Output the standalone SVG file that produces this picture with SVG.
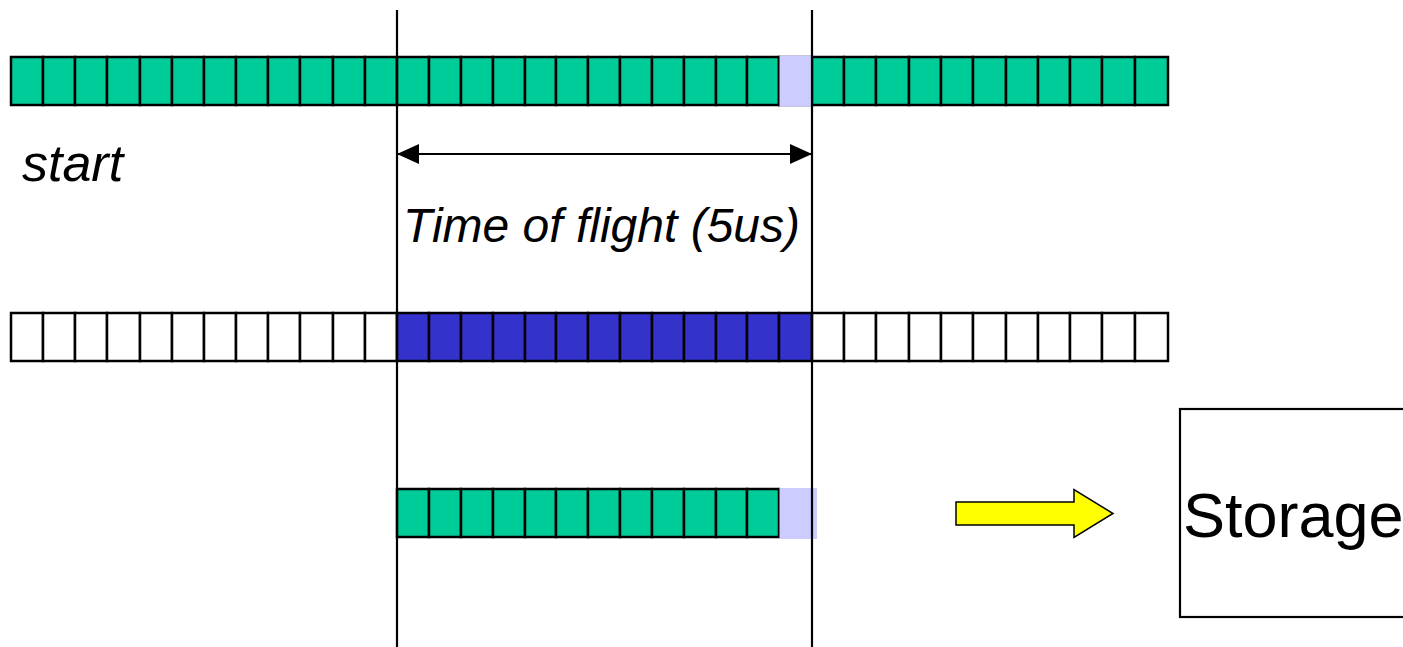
<svg xmlns="http://www.w3.org/2000/svg" width="1403" height="647" viewBox="0 0 1403 647">
  <style>
    .g { fill: #00CC99; stroke: #000; stroke-width: 2.5; }
    .w { fill: #FFFFFF; stroke: #000; stroke-width: 2.5; }
    .b { fill: #3333CC; stroke: #000; stroke-width: 2.5; }
    .lav { fill: #CCCCFF; stroke: none; }
    .guide { stroke: #000; stroke-width: 2.2; fill: none; }
    .it { font-family: "Liberation Sans", Arial, sans-serif; font-style: italic; fill: #000; }
    .lbl { font-family: "Liberation Sans", Arial, sans-serif; fill: #000; }
  </style>
  <defs>
    <marker id="ah" markerWidth="22" markerHeight="20" refX="21" refY="10" orient="auto-start-reverse" markerUnits="userSpaceOnUse">
      <path d="M0,0 L22,10 L0,20 Z" fill="#000"/>
    </marker>
  </defs>
  <rect width="1403" height="647" fill="#fff"/>

  <!-- incoming data stream -->
  <g id="stream-top">
    <rect class="g" x="11" y="57" width="32" height="48"/>
    <rect class="g" x="43" y="57" width="32" height="48"/>
    <rect class="g" x="75" y="57" width="32" height="48"/>
    <rect class="g" x="107" y="57" width="33" height="48"/>
    <rect class="g" x="140" y="57" width="32" height="48"/>
    <rect class="g" x="172" y="57" width="32" height="48"/>
    <rect class="g" x="204" y="57" width="32" height="48"/>
    <rect class="g" x="236" y="57" width="32" height="48"/>
    <rect class="g" x="268" y="57" width="32" height="48"/>
    <rect class="g" x="300" y="57" width="33" height="48"/>
    <rect class="g" x="333" y="57" width="32" height="48"/>
    <rect class="g" x="365" y="57" width="32" height="48"/>
    <rect class="g" x="397" y="57" width="32" height="48"/>
    <rect class="g" x="429" y="57" width="32" height="48"/>
    <rect class="g" x="461" y="57" width="32" height="48"/>
    <rect class="g" x="493" y="57" width="32" height="48"/>
    <rect class="g" x="525" y="57" width="31" height="48"/>
    <rect class="g" x="556" y="57" width="32" height="48"/>
    <rect class="g" x="588" y="57" width="32" height="48"/>
    <rect class="g" x="620" y="57" width="32" height="48"/>
    <rect class="g" x="652" y="57" width="32" height="48"/>
    <rect class="g" x="684" y="57" width="32" height="48"/>
    <rect class="g" x="716" y="57" width="31" height="48"/>
    <rect class="g" x="747" y="57" width="32" height="48"/>
    <rect class="g" x="779" y="57" width="33" height="48"/>
    <rect class="g" x="812" y="57" width="32" height="48"/>
    <rect class="g" x="844" y="57" width="32" height="48"/>
    <rect class="g" x="876" y="57" width="33" height="48"/>
    <rect class="g" x="909" y="57" width="32" height="48"/>
    <rect class="g" x="941" y="57" width="32" height="48"/>
    <rect class="g" x="973" y="57" width="33" height="48"/>
    <rect class="g" x="1006" y="57" width="32" height="48"/>
    <rect class="g" x="1038" y="57" width="32" height="48"/>
    <rect class="g" x="1070" y="57" width="32" height="48"/>
    <rect class="g" x="1102" y="57" width="33" height="48"/>
    <rect class="g" x="1135" y="57" width="33" height="48"/>
    <rect class="lav" x="779.5" y="55.5" width="32" height="51"/>
  </g>

  <!-- acquisition window -->
  <g id="window-middle">
    <rect class="w" x="11" y="313" width="32" height="48"/>
    <rect class="w" x="43" y="313" width="32" height="48"/>
    <rect class="w" x="75" y="313" width="32" height="48"/>
    <rect class="w" x="107" y="313" width="33" height="48"/>
    <rect class="w" x="140" y="313" width="32" height="48"/>
    <rect class="w" x="172" y="313" width="32" height="48"/>
    <rect class="w" x="204" y="313" width="32" height="48"/>
    <rect class="w" x="236" y="313" width="32" height="48"/>
    <rect class="w" x="268" y="313" width="32" height="48"/>
    <rect class="w" x="300" y="313" width="33" height="48"/>
    <rect class="w" x="333" y="313" width="32" height="48"/>
    <rect class="w" x="365" y="313" width="32" height="48"/>
    <rect class="b" x="397" y="313" width="32" height="48"/>
    <rect class="b" x="429" y="313" width="32" height="48"/>
    <rect class="b" x="461" y="313" width="32" height="48"/>
    <rect class="b" x="493" y="313" width="32" height="48"/>
    <rect class="b" x="525" y="313" width="31" height="48"/>
    <rect class="b" x="556" y="313" width="32" height="48"/>
    <rect class="b" x="588" y="313" width="32" height="48"/>
    <rect class="b" x="620" y="313" width="32" height="48"/>
    <rect class="b" x="652" y="313" width="32" height="48"/>
    <rect class="b" x="684" y="313" width="32" height="48"/>
    <rect class="b" x="716" y="313" width="31" height="48"/>
    <rect class="b" x="747" y="313" width="32" height="48"/>
    <rect class="b" x="779" y="313" width="33" height="48"/>
    <rect class="w" x="812" y="313" width="32" height="48"/>
    <rect class="w" x="844" y="313" width="32" height="48"/>
    <rect class="w" x="876" y="313" width="33" height="48"/>
    <rect class="w" x="909" y="313" width="32" height="48"/>
    <rect class="w" x="941" y="313" width="32" height="48"/>
    <rect class="w" x="973" y="313" width="33" height="48"/>
    <rect class="w" x="1006" y="313" width="32" height="48"/>
    <rect class="w" x="1038" y="313" width="32" height="48"/>
    <rect class="w" x="1070" y="313" width="32" height="48"/>
    <rect class="w" x="1102" y="313" width="33" height="48"/>
    <rect class="w" x="1135" y="313" width="33" height="48"/>
  </g>

  <!-- captured frame -->
  <g id="frame-bottom">
    <rect class="g" x="397" y="489" width="32" height="48"/>
    <rect class="g" x="429" y="489" width="32" height="48"/>
    <rect class="g" x="461" y="489" width="32" height="48"/>
    <rect class="g" x="493" y="489" width="32" height="48"/>
    <rect class="g" x="525" y="489" width="31" height="48"/>
    <rect class="g" x="556" y="489" width="32" height="48"/>
    <rect class="g" x="588" y="489" width="32" height="48"/>
    <rect class="g" x="620" y="489" width="32" height="48"/>
    <rect class="g" x="652" y="489" width="32" height="48"/>
    <rect class="g" x="684" y="489" width="32" height="48"/>
    <rect class="g" x="716" y="489" width="31" height="48"/>
    <rect class="g" x="747" y="489" width="32" height="48"/>
    <rect class="lav" x="779.5" y="488" width="37.5" height="51"/>
  </g>

  <!-- storage -->
  <g id="storage">
    <rect x="1180" y="409" width="240" height="208" fill="#fff" stroke="#000" stroke-width="2.2"/>
    <text class="lbl" x="1183" y="537" font-size="63">Storage</text>
  </g>

  <g id="labels">
    <text class="it" x="22" y="181" font-size="52">start</text>
    <text class="it" x="403" y="242" font-size="48">Time of flight (5us)</text>
  </g>

  <g id="connectors">
    <line class="guide" x1="397" y1="10" x2="397" y2="647"/>
    <line class="guide" x1="812" y1="10" x2="812" y2="647"/>
    <line x1="398" y1="154" x2="811" y2="154" stroke="#000" stroke-width="2" marker-start="url(#ah)" marker-end="url(#ah)"/>
    <path d="M956,502 L1074,502 L1074,489.5 L1113,513.5 L1074,537.5 L1074,525 L956,525 Z" fill="#FFFF00" stroke="#000" stroke-width="1.5"/>
  </g>
</svg>
